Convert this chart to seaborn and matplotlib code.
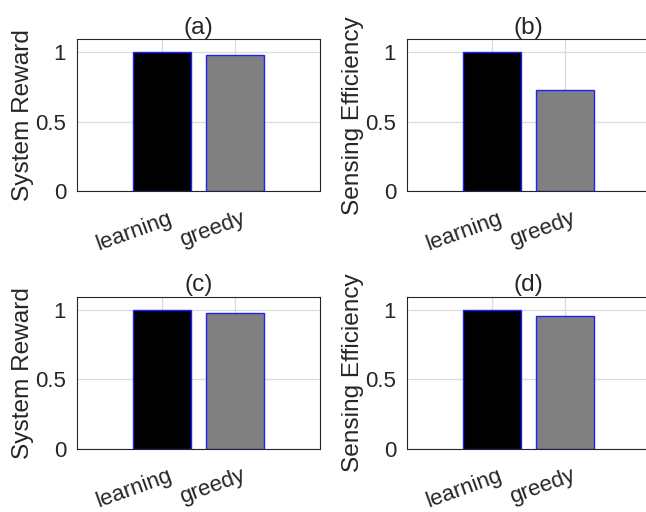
import matplotlib
matplotlib.use("Agg")
import matplotlib.pyplot as plt
import matplotlib.transforms as mtransforms
import seaborn as sns
import pandas as pd

sns.set_style("white")
plt.rcParams['font.family'] = ['Liberation Sans', 'DejaVu Sans']

categories = ["learning", "greedy"]
panel_titles = ["(a)", "(b)", "(c)", "(d)"]
ylabels = ["System Reward", "Sensing Efficiency", "System Reward", "Sensing Efficiency"]
values_a = [1.0, 0.98]
values_b = [1.0, 0.728]
values_c = [1.0, 0.975]
values_d = [1.0, 0.955]
yticks = [0, 0.5, 1]
ytick_labels = ["0", "0.5", "1"]

bar_colors = {"learning": "#000000", "greedy": "#808080"}
edge_color = "#2020ff"
axis_color = "#262626"

W, H = 646, 512
fig = plt.figure(figsize=(W / 100, H / 100), dpi=100)

# pixel boxes: left, right, top, bottom
boxes = [
    (77.3, 320.0, 39.3, 191.0),
    (407.3, 650.0, 39.3, 191.0),
    (77.3, 320.0, 296.7, 448.7),
    (407.3, 650.0, 296.7, 448.7),
]
all_values = [values_a, values_b, values_c, values_d]

for box, vals, title, ylab in zip(boxes, all_values, panel_titles, ylabels):
    l, r, t, b = box
    ax = fig.add_axes([l / W, (H - b) / H, (r - l) / W, (b - t) / H])
    df = pd.DataFrame({"cat": categories, "val": vals})
    sns.barplot(data=df, x="cat", y="val", hue="cat", palette=bar_colors,
                legend=False, edgecolor=edge_color, linewidth=1.0, width=0.8,
                ax=ax, zorder=2)
    ax.set_xlim(-1.17, 2.17)
    ax.set_ylim(0, 1.094)
    ax.set_yticks(yticks)
    ax.set_yticklabels(ytick_labels)
    ax.set_axisbelow(True)
    ax.grid(True, color="#dcdcdc", linewidth=0.9)
    for s in ax.spines.values():
        s.set_visible(True)
        s.set_color(axis_color)
        s.set_linewidth(0.8)
    ax.tick_params(axis="both", direction="in", length=3, width=0.6,
                   color=axis_color, labelcolor=axis_color, labelsize=16)
    ax.tick_params(axis="y", pad=8)
    ax.tick_params(axis="x", pad=12)
    ax.set_xlabel("")
    ax.set_ylabel(ylab, fontsize=17.6, color=axis_color, labelpad=1)
    ax.set_title(title, fontsize=17.6, color=axis_color, pad=4)
    ax.set_xticks(range(len(categories)))
    ax.set_xticklabels(categories)
    offset = mtransforms.ScaledTranslation(5.5 / 100, 0, fig.dpi_scale_trans)
    for lbl in ax.get_xticklabels():
        lbl.set_rotation(20)
        lbl.set_ha("right")
        lbl.set_va("top")
        lbl.set_rotation_mode("anchor")
        lbl.set_transform(lbl.get_transform() + offset)

fig.savefig("out.png", dpi=100)
